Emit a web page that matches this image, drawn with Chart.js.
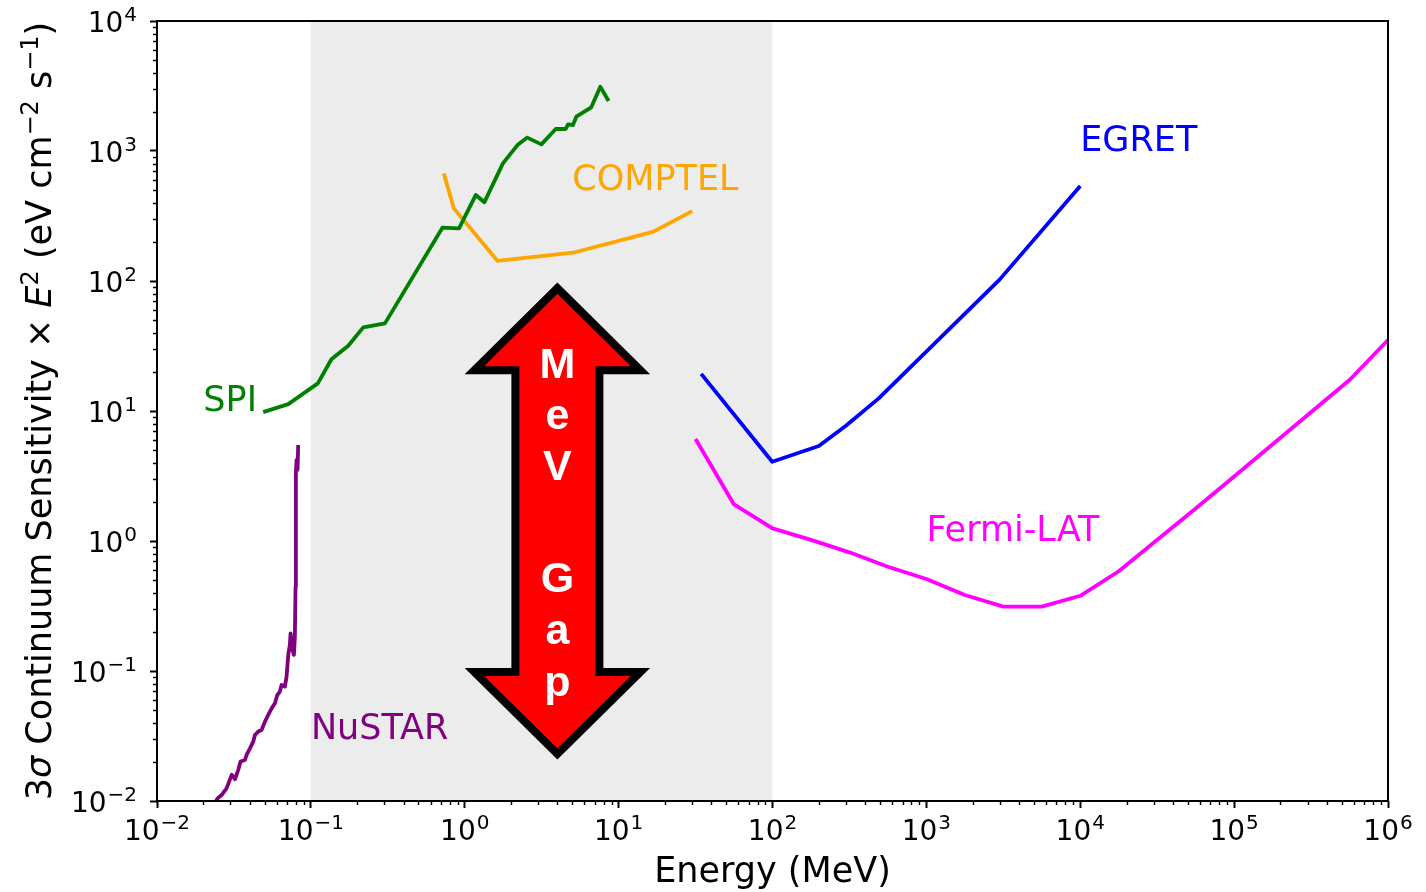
<!DOCTYPE html>
<html>
<head>
<meta charset="utf-8">
<script src="https://cdn.jsdelivr.net/npm/chart.js@4.4.1/dist/chart.umd.min.js"></script>
<style>
html,body{margin:0;padding:0;background:#ffffff;}
canvas{display:block;}
</style>
</head>
<body>
<canvas id="c" width="1426" height="892" style="width:1426px;height:892px"></canvas>
<script>
// ---------------- data (energy in MeV, sensitivity in eV cm^-2 s^-1) ----------------
const nustarE = [0.0235, 0.0248, 0.0263, 0.0283, 0.0306, 0.0321, 0.0337, 0.0349, 0.0373, 0.0382, 0.0402, 0.0422, 0.0433, 0.0455, 0.0478, 0.0503, 0.0528, 0.0556, 0.0584, 0.0605, 0.0629, 0.0645, 0.0678, 0.0695, 0.0713, 0.0730, 0.0738, 0.0760, 0.0776, 0.0787, 0.0795, 0.0799, 0.0807, 0.0819, 0.0827];
const nustarS = [0.0095, 0.0105, 0.0111, 0.0125, 0.0159, 0.0147, 0.0173, 0.0201, 0.0207, 0.0226, 0.0254, 0.0286, 0.0322, 0.0342, 0.0352, 0.0408, 0.0459, 0.0516, 0.0564, 0.0654, 0.0694, 0.0780, 0.0758, 0.0905, 0.133, 0.159, 0.195, 0.145, 0.133, 0.184, 0.445, 3.32, 4.20, 3.52, 5.48];

const spiE = [0.049, 0.0713, 0.111, 0.136, 0.175, 0.219, 0.303, 0.716, 0.918, 1.18, 1.34, 1.77, 2.20, 2.55, 3.15, 3.90, 4.53, 4.69, 5.05, 5.31, 6.64, 7.60, 8.61];
const spiS = [9.8, 11.3, 16.3, 25, 31.8, 44, 47.2, 257, 254, 459, 403, 803, 1111, 1268, 1125, 1476, 1476, 1603, 1585, 1836, 2168, 3126, 2425];

const comptelE = [0.731, 0.849, 1.63, 5.05, 16.7, 30.1];
const comptelS = [673, 362, 143, 165, 239, 345];

const egretE = [34.4, 99.6, 200, 300, 490, 2980, 10000];
const egretS = [19.3, 4.07, 5.38, 7.7, 12.5, 102, 538];

const fermiE = [31.6, 56.2, 100, 178, 316, 562, 1000, 1778, 3162, 5623, 10000, 17783, 56234, 100000, 562341, 1000000];
const fermiS = [6.09, 1.91, 1.25, 1.02, 0.818, 0.634, 0.510, 0.384, 0.313, 0.313, 0.379, 0.585, 1.78, 3.13, 17.3, 35.2];

// MeV-gap band and arrow (data coordinates)
const gapBand = [0.1, 100];
const arrowE = 4;
const arrowEnds = [88, 0.023];

// ticks
const xTickValues = [1e-2, 1e-1, 1e0, 1e1, 1e2, 1e3, 1e4, 1e5, 1e6];
const xTickExps   = ['\u22122', '\u22121', '0', '1', '2', '3', '4', '5', '6'];
const yTickValues = [1e-2, 1e-1, 1e0, 1e1, 1e2, 1e3, 1e4];
const yTickExps   = ['\u22122', '\u22121', '0', '1', '2', '3', '4'];

// series labels and their anchors (data coords, left/baseline like matplotlib text)
const labelNames = ['SPI', 'COMPTEL', 'EGRET', 'Fermi-LAT', 'NuSTAR'];
const labelE = [0.02, 5, 10000, 1000, 0.1];
const labelS = [10, 500, 1000, 1, 0.03];
const labelColors = ['#008000', '#FFA500', '#0000FF', '#FF00FF', '#800080'];

// ---------------- chart ----------------
const DV = '"DejaVu Sans", "Liberation Sans", sans-serif';

function mk(label, xs, ys, color) {
  return {
    label: label,
    data: xs.map((x, i) => ({x: x, y: ys[i]})),
    borderColor: color,
    backgroundColor: color,
    borderWidth: 3.8,
    pointRadius: 0,
    pointHoverRadius: 0,
    tension: 0,
    fill: false,
    borderJoinStyle: 'round',
    borderCapStyle: 'butt',
    clip: 0
  };
}

function minorValues(lo, hi) {
  const out = [];
  for (let d = Math.round(Math.log10(lo)); d < Math.round(Math.log10(hi)); d++) {
    for (let m = 2; m <= 9; m++) out.push(m * Math.pow(10, d));
  }
  return out;
}

function drawPow(ctx, exp, x, yBase, align) {
  const bigF = '28px ' + DV, supF = '20px ' + DV;
  ctx.font = bigF; const wb = ctx.measureText('10').width;
  ctx.font = supF; const we = ctx.measureText(exp).width;
  const total = wb + we + 1;
  const x0 = align === 'center' ? x - total / 2 : x - total;
  ctx.textAlign = 'left';
  ctx.textBaseline = 'alphabetic';
  ctx.font = bigF; ctx.fillText('10', x0, yBase);
  ctx.font = supF; ctx.fillText(exp, x0 + wb + 1, yBase - 11);
}

const decor = {
  id: 'decor',
  beforeDatasetsDraw(chart) {
    const ctx = chart.ctx, a = chart.chartArea, xs = chart.scales.x;
    ctx.save();
    const x1 = xs.getPixelForValue(gapBand[0]), x2 = xs.getPixelForValue(gapBand[1]);
    ctx.fillStyle = 'rgb(235,236,235)';
    ctx.fillRect(x1, a.top, x2 - x1, a.bottom - a.top);
    ctx.restore();
  },
  afterDatasetsDraw(chart) {
    const ctx = chart.ctx, xs = chart.scales.x, ys = chart.scales.y;
    ctx.save();
    // ---- MeV gap arrow ----
    const cx = xs.getPixelForValue(arrowE);
    const yt = ys.getPixelForValue(arrowEnds[0]);
    const yb = ys.getPixelForValue(arrowEnds[1]);
    const head = 82, hw = 83, sw = 42;
    ctx.beginPath();
    ctx.moveTo(cx, yt);
    ctx.lineTo(cx + hw, yt + head);
    ctx.lineTo(cx + sw, yt + head);
    ctx.lineTo(cx + sw, yb - head);
    ctx.lineTo(cx + hw, yb - head);
    ctx.lineTo(cx, yb);
    ctx.lineTo(cx - hw, yb - head);
    ctx.lineTo(cx - sw, yb - head);
    ctx.lineTo(cx - sw, yt + head);
    ctx.lineTo(cx - hw, yt + head);
    ctx.closePath();
    ctx.fillStyle = '#FF0000';
    ctx.fill();
    ctx.lineWidth = 8;
    ctx.lineJoin = 'miter';
    ctx.miterLimit = 10;
    ctx.strokeStyle = '#000000';
    ctx.stroke();
    // letters
    const mid = (yt + yb) / 2;
    const letters = ['M', 'e', 'V', 'G', 'a', 'p'];
    const offs = [-143, -92, -41, 71, 123, 175];
    ctx.fillStyle = '#FFFFFF';
    ctx.font = 'bold 43px "Liberation Sans", Arial, sans-serif';
    ctx.textAlign = 'center';
    ctx.textBaseline = 'alphabetic';
    letters.forEach((t, i) => ctx.fillText(t, cx, mid + offs[i]));
    // ---- series labels ----
    ctx.font = '35px ' + DV;
    ctx.textAlign = 'left';
    labelNames.forEach((t, i) => {
      ctx.fillStyle = labelColors[i];
      ctx.fillText(t, xs.getPixelForValue(labelE[i]), ys.getPixelForValue(labelS[i]));
    });
    ctx.restore();
  },
  afterDraw(chart) {
    const ctx = chart.ctx, a = chart.chartArea, xs = chart.scales.x, ys = chart.scales.y;
    ctx.save();
    // frame
    ctx.strokeStyle = '#000';
    ctx.lineWidth = 2;
    ctx.strokeRect(a.left, a.top, a.right - a.left, a.bottom - a.top);
    // minor ticks
    ctx.lineWidth = 1.4;
    ctx.beginPath();
    minorValues(1e-2, 1e6).forEach(v => {
      const px = Math.round(xs.getPixelForValue(v)) + 0.5;
      ctx.moveTo(px, a.bottom); ctx.lineTo(px, a.bottom + 4);
    });
    minorValues(1e-2, 1e4).forEach(v => {
      const py = Math.round(ys.getPixelForValue(v)) + 0.5;
      ctx.moveTo(a.left, py); ctx.lineTo(a.left - 4, py);
    });
    ctx.stroke();
    // tick labels
    ctx.fillStyle = '#000';
    xTickValues.forEach((v, i) => drawPow(ctx, xTickExps[i], xs.getPixelForValue(v), a.bottom + 39, 'center'));
    yTickValues.forEach((v, i) => drawPow(ctx, yTickExps[i], a.left - 20, ys.getPixelForValue(v) + 11, 'right'));
    // x title
    ctx.font = '35px ' + DV;
    ctx.textAlign = 'center';
    ctx.textBaseline = 'alphabetic';
    ctx.fillText('Energy (MeV)', (a.left + a.right) / 2, 882);
    // y title (rotated, mixed runs)
    const R = '35px ' + DV, I = 'italic 35px ' + DV, S = '24px ' + DV;
    const runs = [
      ['3', R, 0], ['\u03C3', I, 0], [' Continuum Sensitivity \u00D7 ', R, 0], ['E', I, 0], ['2', S, -13],
      [' (eV cm', R, 0], ['\u22122', S, -13], [' s', R, 0], ['\u22121', S, -13], [')', R, 0]
    ];
    let total = 0;
    runs.forEach(r => { ctx.font = r[1]; total += ctx.measureText(r[0]).width; });
    ctx.translate(51, (a.top + a.bottom) / 2);
    ctx.rotate(-Math.PI / 2);
    ctx.textAlign = 'left';
    let x = -total / 2;
    runs.forEach(r => { ctx.font = r[1]; ctx.fillText(r[0], x, r[2]); x += ctx.measureText(r[0]).width; });
    ctx.restore();
  }
};

new Chart(document.getElementById('c'), {
  type: 'line',
  data: {
    datasets: [
      mk('NuSTAR', nustarE, nustarS, '#800080'),
      mk('SPI', spiE, spiS, '#008000'),
      mk('COMPTEL', comptelE, comptelS, '#FFA500'),
      mk('EGRET', egretE, egretS, '#0000FF'),
      mk('Fermi-LAT', fermiE, fermiS, '#FF00FF')
    ]
  },
  options: {
    responsive: false,
    animation: false,
    devicePixelRatio: 1,
    layout: { padding: { top: 21, right: 38, left: 0, bottom: 0 } },
    plugins: { legend: { display: false }, tooltip: { enabled: false }, title: { display: false } },
    events: [],
    scales: {
      x: {
        type: 'logarithmic', position: 'bottom', min: 1e-2, max: 1e6,
        afterBuildTicks: s => { s.ticks = xTickValues.map(v => ({value: v, major: true})); },
        afterFit: s => { s.height = 91; },
        ticks: { display: false },
        grid: { display: true, drawOnChartArea: false, drawTicks: true, tickLength: 7, tickWidth: 2, tickColor: '#000' },
        border: { display: false }
      },
      y: {
        type: 'logarithmic', position: 'left', min: 1e-2, max: 1e4,
        afterBuildTicks: s => { s.ticks = yTickValues.map(v => ({value: v, major: true})); },
        afterFit: s => { s.width = 157; },
        ticks: { display: false },
        grid: { display: true, drawOnChartArea: false, drawTicks: true, tickLength: 7, tickWidth: 2, tickColor: '#000' },
        border: { display: false }
      }
    }
  },
  plugins: [decor]
});
</script>
</body>
</html>
